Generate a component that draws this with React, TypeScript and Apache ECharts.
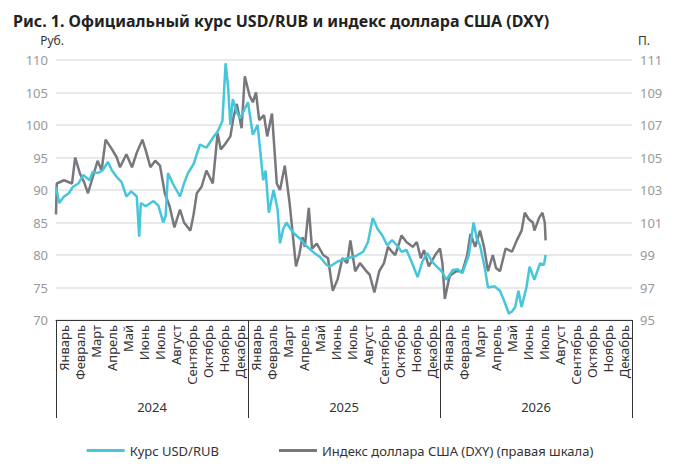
import React, { useEffect, useRef } from 'react';
import * as echarts from 'echarts';

const months = ['Январь', 'Февраль', 'Март', 'Апрель', 'Май', 'Июнь', 'Июль', 'Август', 'Сентябрь', 'Октябрь', 'Ноябрь', 'Декабрь'];
const years = ['2024', '2025', '2026'];
const monthLabels = years.flatMap(() => months);

// [month offset from Jan 2024, value]
const rubData: [number, number][] = [
  [0, 90.5], [0.2, 88], [0.5, 89], [0.8, 89.5], [1.06, 90.5], [1.4, 91], [1.7, 92.3], [2.1, 91.5], [2.3, 92.8], [2.6, 92.6],
  [2.9, 93], [3.25, 94.3], [3.5, 93], [3.8, 92], [4.1, 91.2], [4.4, 89], [4.7, 89.8], [5.05, 89], [5.2, 82.8], [5.3, 88],
  [5.6, 87.5], [6.1, 88.3], [6.4, 87.6], [6.7, 85], [6.85, 86], [7.0, 92.6], [7.3, 91], [7.75, 89], [8.0, 91], [8.25, 92.6],
  [8.6, 94], [9.0, 97], [9.4, 96.5], [9.8, 98], [10.1, 99], [10.4, 100.6], [10.6, 109.5], [10.75, 106], [10.9, 100], [11.05, 104],
  [11.3, 102], [11.5, 101], [11.8, 102.5], [12.0, 103.5], [12.3, 98.5], [12.6, 100], [12.95, 91.5], [13.1, 93], [13.3, 86.5], [13.6, 90],
  [13.85, 87], [14.0, 81.8], [14.2, 84], [14.4, 85], [14.8, 83.5], [15.25, 82.5], [15.6, 81.5], [16.1, 80.4], [16.5, 79.7], [16.9, 78.5],
  [17.1, 78.2], [17.6, 79], [18.2, 79.5], [18.7, 79.8], [19.2, 80.5], [19.5, 82], [19.8, 85.7], [20.1, 84], [20.4, 83], [20.7, 81.5],
  [21.0, 82.3], [21.3, 81.5], [21.6, 80.5], [21.9, 80.8], [22.3, 78.5], [22.6, 76.6], [22.9, 79], [23.2, 80.3], [23.5, 79], [23.8, 78.2],
  [24.1, 77.5], [24.4, 76.2], [24.8, 77.7], [25.1, 77.8], [25.4, 77.2], [25.8, 80], [26.1, 85], [26.3, 82.5], [26.5, 81.5], [26.8, 78],
  [27.0, 75], [27.4, 75.2], [27.75, 74.5], [28.0, 73], [28.3, 71], [28.5, 71.3], [28.7, 72], [28.9, 74.5], [29.1, 72], [29.4, 75],
  [29.6, 78.2], [29.9, 76.2], [30.25, 78.7], [30.5, 78.5], [30.6, 80],
];
const dxyData: [number, number][] = [
  [0, 101.5], [0.05, 103.4], [0.5, 103.6], [1.0, 103.4], [1.2, 105], [1.5, 104], [1.75, 103.5], [2.0, 102.8], [2.3, 103.8], [2.6, 104.8],
  [2.85, 104.2], [3.1, 106.1], [3.5, 105.5], [3.8, 105], [4.0, 104.4], [4.4, 105.2], [4.75, 104.4], [5.05, 105.3], [5.4, 106.1], [5.65, 105.3],
  [5.9, 104.4], [6.2, 104.8], [6.5, 104.5], [6.8, 102.8], [7.1, 102], [7.4, 100.7], [7.75, 101.8], [8.0, 101], [8.4, 100.5], [8.6, 101.5],
  [8.8, 102.8], [9.1, 103.2], [9.4, 104.2], [9.8, 103.4], [10.1, 106.5], [10.3, 105.5], [10.55, 105.8], [10.9, 106.3], [11.1, 107.5], [11.3, 108.3],
  [11.6, 106.8], [11.8, 110], [12.1, 108.8], [12.3, 108.4], [12.5, 109], [12.7, 107.3], [13.0, 107.6], [13.2, 106.3], [13.5, 107.7], [13.8, 103.4],
  [14.0, 103], [14.3, 104.5], [14.6, 102.2], [15.0, 98.3], [15.2, 99], [15.4, 100.1], [15.55, 99.5], [15.8, 101.9], [16.0, 99.4], [16.3, 99.7],
  [16.7, 99], [17.0, 98.8], [17.3, 96.8], [17.6, 97.5], [17.9, 98.8], [18.2, 98.5], [18.4, 99.9], [18.7, 98], [19.0, 98.5], [19.4, 98],
  [19.6, 97.8], [19.9, 96.7], [20.2, 98], [20.5, 98.5], [20.75, 99.5], [21.0, 99.2], [21.2, 99], [21.6, 100.2], [21.9, 99.8], [22.3, 99.5],
  [22.55, 99.8], [22.8, 98.8], [23.0, 99.3], [23.3, 98.3], [23.7, 99], [24.0, 99.4], [24.15, 98.5], [24.3, 96.3], [24.6, 97.7], [25.0, 98],
  [25.4, 98], [25.7, 99], [25.9, 100.3], [26.2, 99.5], [26.5, 100.5], [26.75, 99.5], [27.0, 98], [27.3, 99], [27.5, 98.2], [27.75, 98],
  [28.1, 99.4], [28.5, 99.2], [28.8, 99.9], [29.1, 100.5], [29.3, 101.6], [29.55, 101.2], [29.8, 101], [29.9, 100.5], [30.2, 101.3], [30.4, 101.6],
  [30.55, 101], [30.6, 99.9],
];
const rubTicks = [70, 110, 5];
const dxyTicks = [95, 111, 2];

const cyan = '#45c6da';
const grey = '#77777d';
const font = 'Noto Sans';

export default function App() {
  const ref = useRef<HTMLDivElement>(null);

  useEffect(() => {
    const chart = echarts.init(ref.current!, null, { renderer: 'svg' });
    chart.setOption({
      animation: false,
      textStyle: { fontFamily: font },
      title: {
        text: 'Рис. 1. Официальный курс USD/RUB и индекс доллара США (DXY)',
        left: 0,
        top: 0,
        textStyle: { fontSize: 16, fontWeight: 'bold', color: '#222', fontFamily: font },
      },
      grid: { left: 48, right: 40, top: 52, bottom: 142 },
      legend: {
        bottom: 0,
        left: 'center',
        itemGap: 60,
        icon: 'rect',
        itemWidth: 38,
        itemHeight: 3,
        textStyle: { fontSize: 13, color: '#333', fontFamily: font },
        data: ['Курс USD/RUB', 'Индекс доллара США (DXY) (правая шкала)'],
      },
      xAxis: [
        { type: 'value', min: 0, max: 36, show: false },
        {
          type: 'category',
          data: monthLabels,
          position: 'bottom',
          axisLine: { show: true, lineStyle: { color: '#333', width: 1 } },
          axisTick: { show: false },
          axisLabel: { interval: 0, rotate: 90, fontSize: 13, color: '#333', margin: 5 },
        },
        {
          type: 'category',
          data: years,
          position: 'bottom',
          axisLine: { show: false },
          axisTick: { show: true, length: 98, lineStyle: { color: '#333' } },
          axisLabel: { fontSize: 13, color: '#333', margin: 80 },
        },
      ],
      yAxis: [
        {
          type: 'value',
          min: rubTicks[0],
          max: rubTicks[1],
          interval: rubTicks[2],
          name: 'Руб.',
          nameGap: 14,
          nameTextStyle: { color: '#333', fontSize: 12, align: 'right', padding: [0, -8, 0, 0] },
          axisLabel: { color: '#999', fontSize: 13 },
          axisLine: { show: false },
          axisTick: { show: false },
          splitLine: { lineStyle: { color: '#e2e2e2', width: 1.5 } },
        },
        {
          type: 'value',
          min: dxyTicks[0],
          max: dxyTicks[1],
          interval: dxyTicks[2],
          name: 'П.',
          nameGap: 14,
          nameTextStyle: { color: '#333', fontSize: 12, align: 'left', padding: [0, 0, 0, 6] },
          axisLabel: { color: '#999', fontSize: 13 },
          axisLine: { show: false },
          axisTick: { show: false },
          splitLine: { show: false },
        },
      ],
      series: [
        {
          name: 'Курс USD/RUB',
          type: 'line',
          xAxisIndex: 0,
          yAxisIndex: 0,
          data: rubData,
          showSymbol: false,
          lineStyle: { color: cyan, width: 2.5 },
          itemStyle: { color: cyan },
          z: 3,
        },
        {
          name: 'Индекс доллара США (DXY) (правая шкала)',
          type: 'line',
          xAxisIndex: 0,
          yAxisIndex: 1,
          data: dxyData,
          showSymbol: false,
          lineStyle: { color: grey, width: 2.5 },
          itemStyle: { color: grey },
          z: 2,
        },
      ],
    });
    return () => chart.dispose();
  }, []);

  return <div ref={ref} style={{ width: 664, height: 454 }} />;
}
